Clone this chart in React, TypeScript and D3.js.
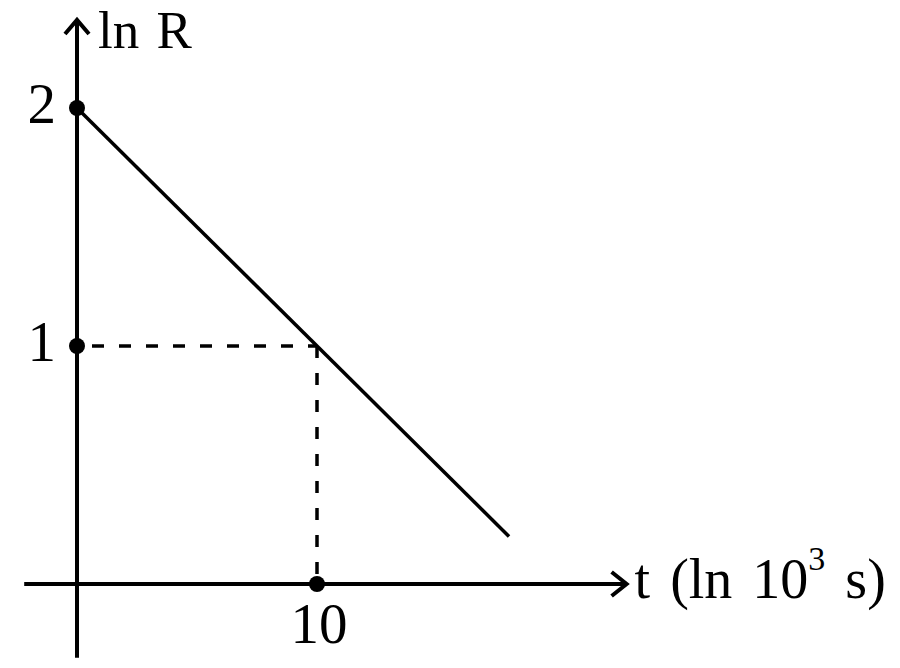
import * as d3 from 'd3';

// line ln R = 2 - 0.1 t, drawn from t = 0 to t = 18
const lineT = [0, 18];
const lineLnR = [2, 0.2];

// points marked with a dot on the axes
const dotT = [0, 0, 10];
const dotLnR = [2, 1, 0];

// tick labels
const yTicks = [2, 1];
const xTicks = [10];

// dashed guide to the point on the line
const guideT = 10;
const guideLnR = 1;

// how far the axes run (in data units)
const xAxisExtent = [-2.2, 22.9];
const yAxisExtent = [-0.31, 2.37];

const FONT = '"Liberation Serif", "Times New Roman", "DejaVu Serif", serif';

export default function App() {
	const width = 900;
	const height = 668;

	const x = d3.scaleLinear().domain([0, 10]).range([77, 317]);
	const y = d3.scaleLinear().domain([0, 2]).range([584, 108]);

	const line = d3
		.line<number>()
		.x((_, i) => x(lineT[i]))
		.y((d) => y(d));

	const x0 = x(0);
	const y0 = y(0);
	const xEnd = x(xAxisExtent[1]);
	const yEnd = y(yAxisExtent[1]);

	return (
		<svg
			width={width}
			height={height}
			style={{ position: 'absolute', left: 0, top: 0, background: '#fff' }}
		>
			{/* axes */}
			<line x1={x(xAxisExtent[0])} y1={y0} x2={xEnd} y2={y0} stroke="#000" strokeWidth={4} />
			<line x1={x0} y1={y(yAxisExtent[0])} x2={x0} y2={yEnd} stroke="#000" strokeWidth={4} />

			{/* arrow heads */}
			<path
				d={`M${xEnd - 15},${y0 - 12}L${xEnd},${y0}L${xEnd - 15},${y0 + 12}`}
				fill="none"
				stroke="#000"
				strokeWidth={4}
			/>
			<path
				d={`M${x0 - 12},${yEnd + 14}L${x0},${yEnd}L${x0 + 12},${yEnd + 14}`}
				fill="none"
				stroke="#000"
				strokeWidth={4}
			/>

			{/* dashed guides */}
			<line
				x1={x(0)}
				y1={y(guideLnR)}
				x2={x(guideT)}
				y2={y(guideLnR)}
				stroke="#000"
				strokeWidth={3.5}
				strokeDasharray="12,15"
				strokeDashoffset={-15}
			/>
			<line
				x1={x(guideT)}
				y1={y(guideLnR)}
				x2={x(guideT)}
				y2={y(0)}
				stroke="#000"
				strokeWidth={3.5}
				strokeDasharray="12,15"
			/>

			{/* main line */}
			<path d={line(lineLnR) ?? ''} fill="none" stroke="#000" strokeWidth={3.5} />

			{/* dots */}
			{dotT.map((t, i) => (
				<circle key={i} cx={x(t)} cy={y(dotLnR[i])} r={8} fill="#000" />
			))}

			{/* tick labels */}
			{yTicks.map((v) => (
				<text
					key={v}
					x={x0 - 21}
					y={y(v) + 15}
					textAnchor="end"
					fontFamily={FONT}
					fontSize={57}
				>
					{v}
				</text>
			))}
			{xTicks.map((v) => (
				<text
					key={v}
					x={x(v) + 2}
					y={y0 + 59}
					textAnchor="middle"
					fontFamily={FONT}
					fontSize={57}
				>
					{v}
				</text>
			))}

			{/* axis titles */}
			<text x={x0 + 21} y={48} fontFamily={FONT} fontSize={53} wordSpacing={4}>
				ln R
			</text>
			<text
				x={xEnd + 8}
				y={y0 + 14}
				fontFamily={FONT}
				fontSize={56}
				wordSpacing={6}
				xmlSpace="preserve"
			>
				t (ln 10
				<tspan fontSize={34} dy={-28}>
					3
				</tspan>
				<tspan dy={28}> s)</tspan>
			</text>
		</svg>
	);
}
